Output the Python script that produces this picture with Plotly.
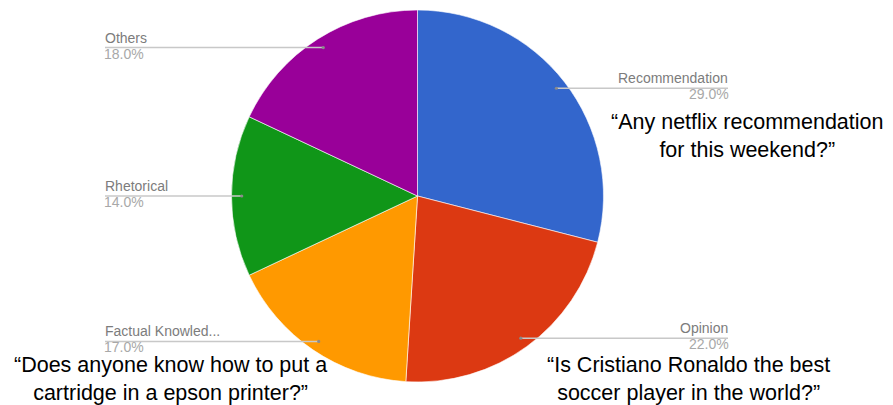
import math
import plotly.graph_objects as go

# Question categories and their share of the sample
categories = ["Recommendation", "Opinion", "Factual Knowledge", "Rhetorical", "Others"]
shares = [29.0, 22.0, 17.0, 14.0, 18.0]
short_labels = ["Recommendation", "Opinion", "Factual Knowled...", "Rhetorical", "Others"]
colors = ["#3366cc", "#dc3912", "#ff9900", "#109618", "#990099"]

# Example questions shown next to selected slices
examples = {
    "Recommendation": "“Any netflix recommendation<br>for this weekend?”",
    "Opinion": "“Is Cristiano Ronaldo the best<br>soccer player in the world?”",
    "Factual Knowledge": "“Does anyone know how to put a<br>cartridge in a epson printer?”",
}

W, H = 893, 405
CX, CY, R = 417.5, 196.0, 186.0  # pie centre / radius in pixels

fig = go.Figure(
    go.Pie(
        labels=categories,
        values=shares,
        sort=False,
        direction="clockwise",
        rotation=0,
        marker=dict(colors=colors, line=dict(color="white", width=0.6)),
        textinfo="none",
        hoverinfo="label+percent",
        showlegend=False,
        domain=dict(
            x=[(CX - R) / W, (CX + R) / W],
            y=[(H - CY - R) / H, (H - CY + R) / H],
        ),
    )
)


def px(x):
    return x / W


def py(y):
    return 1 - y / H


shapes, annotations = [], []
total = sum(shares)
cum = 0.0
for cat, short, val in zip(categories, short_labels, shares):
    mid = (cum + val / 2) / total * 2 * math.pi
    cum += val
    dx, dy = math.sin(mid), -math.cos(mid)
    x0, y0 = CX + 0.945 * R * dx, CY + 0.945 * R * dy
    right = dx > 0
    x_line = 728 if right else 105
    x_text = 730 if right else 103
    shapes.append(dict(type="line", xref="paper", yref="paper",
                       x0=px(x0), y0=py(y0), x1=px(x_line), y1=py(y0),
                       line=dict(color="#c8c8c8", width=1.5)))
    shapes.append(dict(type="circle", xref="paper", yref="paper",
                       x0=px(x0 - 1.6), y0=py(y0 - 1.6), x1=px(x0 + 1.6), y1=py(y0 + 1.6),
                       fillcolor="#8a8a8a", line=dict(width=0)))
    anchor = "right" if right else "left"
    annotations.append(dict(xref="paper", yref="paper", x=px(x_text), y=py(y0 - 10),
                            text=short, showarrow=False, xanchor=anchor, yanchor="middle",
                            font=dict(family="Arial, Liberation Sans", size=14, color="#7c7c7c")))
    annotations.append(dict(xref="paper", yref="paper", x=px(x_text), y=py(y0 + 6),
                            text=f"{val:.1f}%", showarrow=False, xanchor=anchor, yanchor="middle",
                            borderpad=0,
                            font=dict(family="Arial, Liberation Sans", size=14, color="#a8a8a8")))

quote_pos = {
    "Recommendation": (747, 136),
    "Opinion": (688, 379),
    "Factual Knowledge": (170, 379),
}
for cat, txt in examples.items():
    qx, qy = quote_pos[cat]
    annotations.append(dict(xref="paper", yref="paper", x=px(qx), y=py(qy),
                            text=txt, showarrow=False, xanchor="center", yanchor="middle",
                            align="center", borderpad=0,
                            font=dict(family="Arial, Liberation Sans", size=21.5, color="#000000")))

fig.update_layout(
    width=W, height=H,
    margin=dict(l=0, r=0, t=0, b=0),
    paper_bgcolor="white", plot_bgcolor="white",
    shapes=shapes, annotations=annotations,
)

fig.write_html("out.html")
